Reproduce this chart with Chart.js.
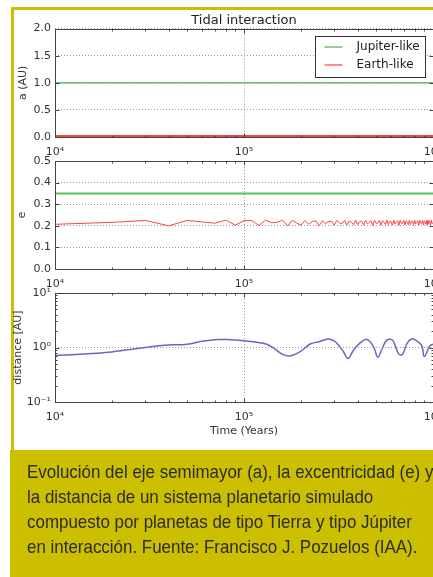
<!DOCTYPE html>
<html>
<head>
<meta charset="utf-8">
<script src="https://cdn.jsdelivr.net/npm/chart.js@4.4.0/dist/chart.umd.min.js"></script>
<style>
  html, body { margin: 0; padding: 0; width: 433px; height: 577px; overflow: hidden; background: #fff; }
  .frame { position: absolute; left: 11px; top: 7px; width: 520px; height: 445px; box-sizing: border-box; border: 3px solid #cbbf00; border-bottom: none; }
  canvas { position: absolute; left: 0; }
  .caption {
    position: absolute; left: 10px; top: 450px; width: 520px; height: 140px;
    background: #cbbf00; color: #2b2b2b; box-sizing: border-box; padding: 9px 0 0 17px;
    font-family: "Liberation Sans", Arial, sans-serif;
    font-size: 18.5px; line-height: 25px; white-space: nowrap;
  }
  .caption span { display: inline-block; transform: scaleX(0.915); transform-origin: 0 0; }
</style>
</head>
<body>
<div class="frame"></div>
<canvas id="panelA" width="460" height="170" style="top:0px"></canvas>
<canvas id="panelE" width="460" height="160" style="top:140px"></canvas>
<canvas id="panelD" width="460" height="175" style="top:275px"></canvas>
<div class="caption"><span>Evolución del eje semimayor (a), la excentricidad (e) y<br>la distancia de un sistema planetario simulado<br>compuesto por planetas de tipo Tierra y tipo Júpiter<br>en interacción. Fuente: Francisco J. Pozuelos (IAA).</span></div>

<script>
// tiempos y valores
const xTickValues = [1e4, 1e5, 1e6];
const xTickText = ["10⁴", "10⁵", "10⁶"];
const logYTickValues = [0.1, 1, 10];
const logYTickText = ["10⁻¹", "10⁰", "10¹"];

// panel a (AU)
const lineTime = [1e4, 1e6];
const jupiterA = [1.0, 1.0];
const earthA = [0.02, 0.02];

// panel e: muestras cada 10^4 años
const eTime = [1, 2, 3, 4, 5, 6, 7, 8, 9, 10, 11, 12, 13, 14, 15, 16, 17, 18, 19, 20,
  21, 22, 23, 24, 25, 26, 27, 28, 29, 30, 31, 32, 33, 34, 35, 36, 37, 38, 39, 40,
  41, 42, 43, 44, 45, 46, 47, 48, 49, 50, 51, 52, 53, 54, 55, 56, 57, 58, 59, 60,
  61, 62, 63, 64, 65, 66, 67, 68, 69, 70, 71, 72, 73, 74, 75, 76, 77, 78, 79, 80,
  81, 82, 83, 84, 85, 86, 87, 88, 89, 90, 91, 92, 93, 94, 95, 96, 97, 98, 99, 100];
const earthE = [0.207, 0.216, 0.225, 0.200, 0.225, 0.218, 0.212, 0.226, 0.203, 0.224,
  0.224, 0.202, 0.226, 0.214, 0.216, 0.226, 0.199, 0.225, 0.213, 0.203,
  0.224, 0.207, 0.220, 0.223, 0.199, 0.224, 0.210, 0.219, 0.222, 0.203,
  0.225, 0.214, 0.209, 0.225, 0.204, 0.222, 0.217, 0.205, 0.226, 0.206,
  0.220, 0.221, 0.203, 0.226, 0.209, 0.216, 0.224, 0.202, 0.225, 0.212,
  0.212, 0.225, 0.203, 0.224, 0.217, 0.206, 0.226, 0.205, 0.221, 0.220,
  0.203, 0.226, 0.208, 0.217, 0.224, 0.202, 0.225, 0.212, 0.211, 0.225,
  0.204, 0.223, 0.218, 0.205, 0.226, 0.206, 0.220, 0.222, 0.203, 0.226,
  0.209, 0.215, 0.224, 0.202, 0.225, 0.213, 0.210, 0.225, 0.204, 0.223,
  0.219, 0.205, 0.226, 0.207, 0.219, 0.223, 0.203, 0.226, 0.210, 0.214];
const jupiterE = [0.35, 0.35];

// panel distancia
const distTime = [1.0e4, 1.5e4, 2.0e4, 2.5e4, 3.0e4, 3.8e4, 5.0e4, 6.0e4, 7.3e4, 8.2e4,
  1.0e5, 1.15e5, 1.32e5, 1.45e5, 1.6e5, 1.75e5, 1.98e5, 2.24e5, 2.5e5, 2.78e5,
  3.0e5, 3.15e5, 3.35e5, 3.55e5, 3.8e5, 4.1e5, 4.4e5, 4.65e5, 4.9e5, 5.1e5,
  5.4e5, 5.7e5, 6.1e5, 6.4e5, 6.6e5, 6.9e5, 7.3e5, 7.7e5, 8.0e5, 8.7e5,
  9.0e5, 9.6e5, 1.0e6];
const distance = [0.71, 0.77, 0.83, 0.92, 1.0, 1.10, 1.15, 1.30, 1.40, 1.40,
  1.33, 1.26, 1.15, 0.95, 0.75, 0.70, 0.84, 1.16, 1.28, 1.43,
  1.32, 1.12, 0.85, 0.63, 0.90, 1.20, 1.41, 1.28, 0.95, 0.66,
  0.98, 1.37, 1.37, 0.95, 0.75, 0.75, 1.20, 1.43, 1.40, 1.10,
  0.68, 1.06, 1.15];

const FONT = "DejaVu Sans";
const GREEN = "#4cae4c";
const RED = "#ff4040";
const PURPLE = "#7661c2";
const minorMantissa = [2, 3, 4, 5, 6, 7, 8, 9];

const toPoints = (xs, ys, k) => xs.map((x, i) => ({ x: x * (k || 1), y: ys[i] }));

// marco completo y marcas de graduación hacia dentro
const frameTicks = {
  id: "frameTicks",
  afterDatasetsDraw(chart, args, opts) {
    const { ctx, chartArea: a, scales } = chart;
    const L = Math.round(a.left) + 0.5, R = Math.round(a.right) + 0.5;
    const T = Math.round(a.top) + 0.5, B = Math.round(a.bottom) + 0.5;
    ctx.save();
    ctx.strokeStyle = "#444";
    ctx.lineWidth = 1;
    const seg = (x1, y1, x2, y2) => { ctx.beginPath(); ctx.moveTo(x1, y1); ctx.lineTo(x2, y2); ctx.stroke(); };
    const xt = (v, len) => {
      const x = Math.round(scales.x.getPixelForValue(v)) + 0.5;
      seg(x, T, x, T + len); seg(x, B, x, B - len);
    };
    const yt = (v, len) => {
      const y = Math.round(scales.y.getPixelForValue(v)) + 0.5;
      seg(L, y, L + len, y); seg(R, y, R - len, y);
    };
    xTickValues.forEach(v => xt(v, 4));
    [1e4, 1e5].forEach(d => minorMantissa.forEach(m => xt(d * m, 2)));
    scales.y.ticks.forEach(t => yt(t.value, 4));
    if (opts.logY) [0.1, 1].forEach(d => minorMantissa.forEach(m => yt(d * m, 2)));
    ctx.strokeRect(L, T, R - L, B - T);
    ctx.restore();
  }
};

// leyenda dentro del área del gráfico (arriba a la derecha)
const boxLegend = {
  id: "boxLegend",
  afterDraw(chart, args, opts) {
    if (!opts.show) return;
    const { ctx, chartArea: a } = chart;
    const items = chart.data.datasets;
    ctx.save();
    ctx.font = "12px '" + FONT + "'";
    const textW = Math.max(...items.map(d => ctx.measureText(d.label).width));
    const w = Math.round(10 + 18 + 13 + textW + 6);
    const h = 41;
    const x0 = Math.round(a.right - 8 - w) + 0.5;
    const y0 = Math.round(a.top + 7) + 0.5;
    ctx.fillStyle = "#fff";
    ctx.fillRect(x0, y0, w, h);
    ctx.strokeStyle = "#333";
    ctx.lineWidth = 1;
    ctx.strokeRect(x0, y0, w, h);
    items.forEach((d, i) => {
      const y = Math.round(y0 + 10 + i * 18);
      ctx.strokeStyle = d.borderColor;
      ctx.lineWidth = 1.2;
      ctx.beginPath(); ctx.moveTo(x0 + 9, y); ctx.lineTo(x0 + 27, y); ctx.stroke();
      ctx.fillStyle = "#222";
      ctx.textBaseline = "middle";
      ctx.fillText(d.label, x0 + 41, y);
    });
    ctx.restore();
  }
};

function xScale(height, withTitle) {
  return {
    type: "logarithmic",
    min: 1e4,
    max: 1e6,
    afterBuildTicks: s => { s.ticks = xTickValues.map(v => ({ value: v })); },
    afterFit: s => { s.height = height; },
    ticks: {
      autoSkip: false,
      maxRotation: 0,
      padding: 9,
      color: "#333",
      font: { family: FONT, size: 11 },
      callback: v => xTickText[xTickValues.indexOf(v)]
    },
    grid: { color: "#999", lineWidth: 1, drawTicks: false },
    border: { display: false, dash: [1, 2] },
    title: withTitle
      ? { display: true, text: "Time (Years)", color: "#333", font: { family: FONT, size: 11 }, padding: { top: 0, bottom: 12.5 } }
      : { display: false }
  };
}

function yTitle(text, pad) {
  return { display: true, text: text, color: "#333", font: { family: FONT, size: 11 }, padding: { top: pad, bottom: 0 } };
}

function makeChart(id, datasets, yOpts, padTop, xHeight, extra) {
  return new Chart(document.getElementById(id), {
    type: "line",
    data: { datasets: datasets },
    options: {
      responsive: false,
      animation: false,
      devicePixelRatio: 1,
      layout: { padding: { left: 0, right: 27, top: padTop, bottom: 0 } },
      elements: { point: { radius: 0 }, line: { tension: 0 } },
      scales: {
        x: xScale(xHeight, extra.xTitle),
        y: Object.assign({
          afterFit: s => { s.width = 55; },
          grid: { color: "#999", lineWidth: 1, drawTicks: false },
          border: { display: false, dash: [1, 2] }
        }, yOpts)
      },
      plugins: Object.assign({
        legend: { display: false },
        tooltip: { enabled: false },
        frameTicks: { logY: !!extra.logY },
        boxLegend: { show: !!extra.legend }
      }, extra.plugins || {})
    },
    plugins: [frameTicks, boxLegend]
  });
}

const tickFont = { family: FONT, size: 11 };

// panel 1: semieje mayor
makeChart("panelA", [
  { label: "Jupiter-like", data: toPoints(lineTime, jupiterA), borderColor: GREEN, borderWidth: 1.2 },
  { label: "Earth-like", data: toPoints(lineTime, earthA), borderColor: RED, borderWidth: 2 }
], {
  min: 0, max: 2,
  ticks: { stepSize: 0.5, padding: 4, color: "#333", font: tickFont, callback: v => v.toFixed(1) },
  title: yTitle("a (AU)", 17)
}, 0, 33, {
  legend: true,
  plugins: {
    title: {
      display: true, text: "Tidal interaction", fullSize: false, color: "#222",
      font: { family: FONT, size: 13, weight: "normal" }, padding: { top: 13, bottom: 0 }
    }
  }
});

// panel 2: excentricidad
makeChart("panelE", [
  { label: "Jupiter-like", data: toPoints(lineTime, jupiterE), borderColor: "#5cbf5c", borderWidth: 2 },
  { label: "Earth-like", data: toPoints(eTime, earthE, 1e4), borderColor: RED, borderWidth: 1 }
], {
  min: 0, max: 0.5,
  ticks: { stepSize: 0.1, padding: 4, color: "#333", font: tickFont, callback: v => v.toFixed(1) },
  title: yTitle("e", 15.5)
}, 21, 31, {});

// panel 3: distancia
makeChart("panelD", [
  { label: "distance", data: toPoints(distTime, distance), borderColor: PURPLE, borderWidth: 1.5, tension: 0.35 }
], {
  type: "logarithmic",
  min: 0.1, max: 10,
  afterBuildTicks: s => { s.ticks = logYTickValues.map(v => ({ value: v })); },
  ticks: { padding: 4, color: "#333", font: tickFont, callback: v => logYTickText[logYTickValues.indexOf(v)] },
  title: yTitle("distance [AU]", 11.7)
}, 18, 48, { xTitle: true, logY: true });
</script>
</body>
</html>
